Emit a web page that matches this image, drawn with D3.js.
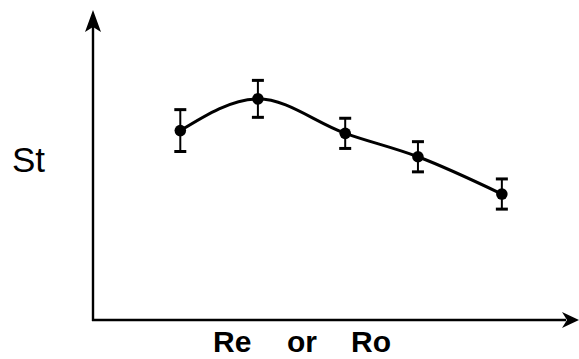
<!DOCTYPE html>
<html>
<head>
<meta charset="utf-8">
<script src="https://cdn.jsdelivr.net/npm/d3@7"></script>
<style>
  html, body { margin: 0; padding: 0; background: #fff; }
  svg { display: block; }
</style>
</head>
<body>
<svg id="chart" width="579" height="359"></svg>
<script>
// Stanton number vs Reynolds / rotation number (schematic, no tick values)
const reValues = [1.8, 3.4, 5.2, 6.7, 8.43];
const stValues = [6.15, 7.18, 6.06, 5.30, 4.09];
const stErrors = [0.68, 0.60, 0.49, 0.49, 0.49];
const xLabelParts = ["Re", "or", "Ro"];
const yLabel = "St";

const svg = d3.select("#chart");

const originX = 93, originY = 320;
const x = d3.scaleLinear().domain([0, 10]).range([originX, 578]);
const y = d3.scaleLinear().domain([0, 10]).range([originY, 12]);

const ink = "#000";

// axes with arrow heads
svg.append("line")
  .attr("x1", originX).attr("y1", originY + 1)
  .attr("x2", originX).attr("y2", y(10) + 14)
  .attr("stroke", ink).attr("stroke-width", 2.4);
svg.append("line")
  .attr("x1", originX - 1).attr("y1", originY)
  .attr("x2", x(10) - 12).attr("y2", originY)
  .attr("stroke", ink).attr("stroke-width", 2.6);

const ax = originX, ay = y(10);
svg.append("path")
  .attr("d", `M${ax},${ay - 2} L${ax + 8},${ay + 20} L${ax},${ay + 15} L${ax - 8},${ay + 20} Z`)
  .attr("fill", ink);
const bx = x(10), by = originY;
svg.append("path")
  .attr("d", `M${bx + 1},${by} L${bx - 16},${by + 8} L${bx - 11},${by} L${bx - 16},${by - 8} Z`)
  .attr("fill", ink);

const pts = reValues.map((r, i) => ({ r, st: stValues[i], e: stErrors[i] }));

// smooth curve through the means
svg.append("path")
  .datum(pts)
  .attr("fill", "none")
  .attr("stroke", ink)
  .attr("stroke-width", 3)
  .attr("d", d3.line().x(d => x(d.r)).y(d => y(d.st)).curve(d3.curveMonotoneX));

// error bars
const eb = svg.append("g").selectAll("g").data(pts).join("g");
eb.append("line")
  .attr("x1", d => x(d.r)).attr("x2", d => x(d.r))
  .attr("y1", d => y(d.st + d.e)).attr("y2", d => y(d.st - d.e))
  .attr("stroke", ink).attr("stroke-width", 2);
eb.append("line")
  .attr("x1", d => x(d.r) - 6).attr("x2", d => x(d.r) + 6)
  .attr("y1", d => y(d.st + d.e)).attr("y2", d => y(d.st + d.e))
  .attr("stroke", ink).attr("stroke-width", 3);
eb.append("line")
  .attr("x1", d => x(d.r) - 6).attr("x2", d => x(d.r) + 6)
  .attr("y1", d => y(d.st - d.e)).attr("y2", d => y(d.st - d.e))
  .attr("stroke", ink).attr("stroke-width", 3);
eb.append("circle")
  .attr("cx", d => x(d.r)).attr("cy", d => y(d.st))
  .attr("r", 5.8).attr("fill", ink);

// axis titles
svg.append("text")
  .attr("x", 12).attr("y", 172)
  .attr("font-family", "Liberation Sans, Arial, sans-serif")
  .attr("font-size", 35)
  .attr("fill", ink)
  .text(yLabel);

const xPartPos = [213, 287, 351];
svg.append("g").selectAll("text").data(xLabelParts).join("text")
  .attr("x", (d, i) => xPartPos[i]).attr("y", 352)
  .attr("font-family", "Liberation Sans, Arial, sans-serif")
  .attr("font-weight", "bold")
  .attr("font-size", 30)
  .attr("fill", ink)
  .text(d => d);
</script>
</body>
</html>
